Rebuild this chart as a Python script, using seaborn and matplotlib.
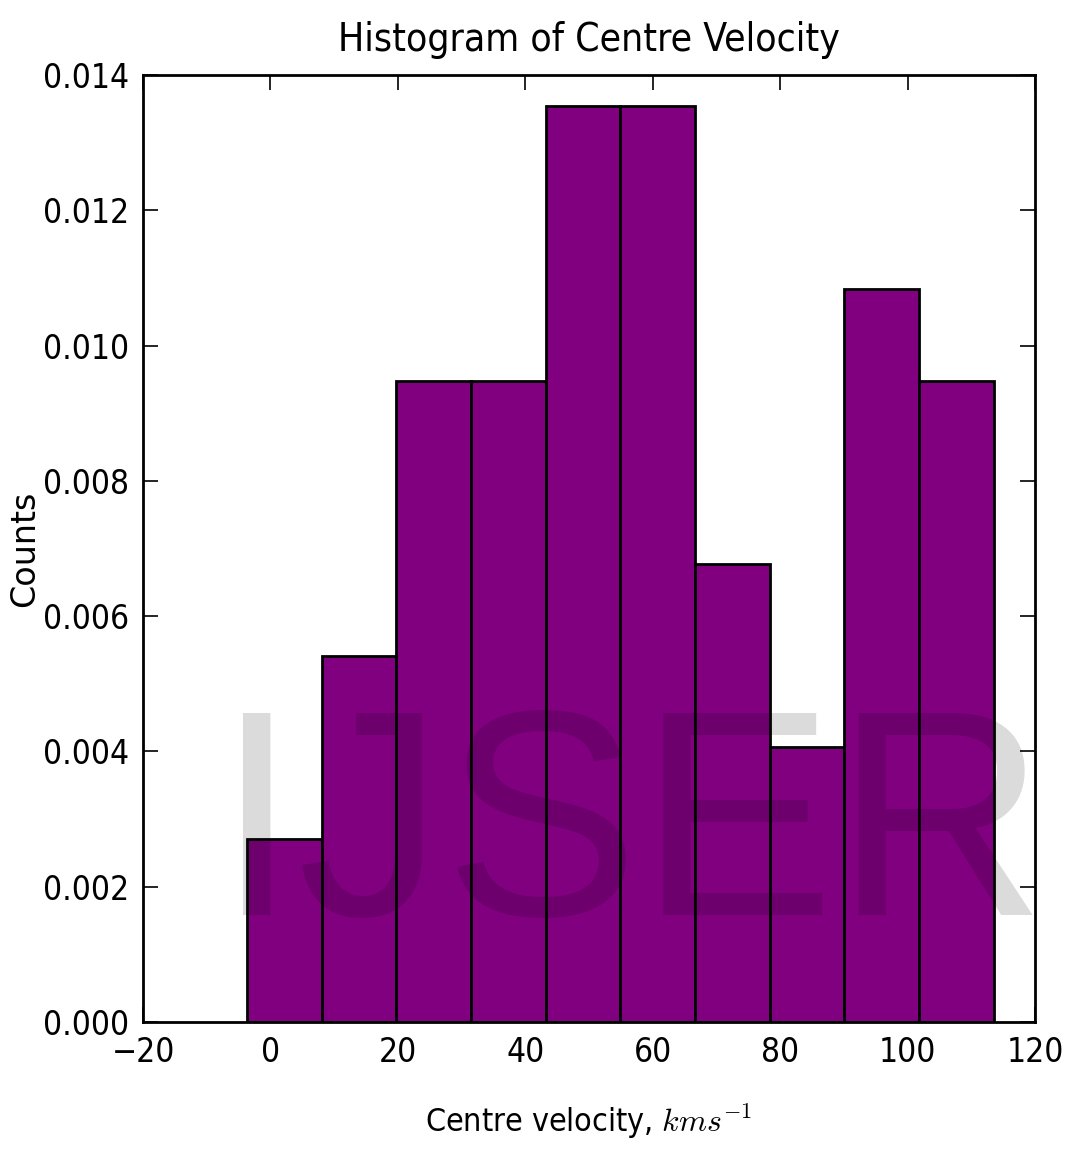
import numpy as np
import pandas as pd
import seaborn as sns
import matplotlib
import matplotlib.pyplot as plt
from matplotlib import font_manager

# histogram: bin edges and counts per bin
binEdges = [-3.7, 8.02, 19.74, 31.46, 43.18, 54.9, 66.62, 78.34, 90.06, 101.78, 113.5]
binCounts = [2, 4, 7, 7, 10, 10, 5, 3, 8, 7]
xTicks = [-20, 0, 20, 40, 60, 80, 100, 120]
yTicks = [0.000, 0.002, 0.004, 0.006, 0.008, 0.010, 0.012, 0.014]

binCentres = [(a + b) / 2 for a, b in zip(binEdges[:-1], binEdges[1:])]
velData = pd.DataFrame({'velocity': binCentres, 'count': binCounts})

sns.set_style('ticks')
plt.rcParams['mathtext.fontset'] = 'cm'
plt.rcParams['text.color'] = 'black'
plt.rcParams['axes.labelcolor'] = 'black'
plt.rcParams['xtick.color'] = 'black'
plt.rcParams['ytick.color'] = 'black'
plt.rcParams['axes.edgecolor'] = 'black'

# narrow font if one is around
names = {f.name for f in font_manager.fontManager.ttflist}
stretches = {(f.name, f.stretch) for f in font_manager.fontManager.ttflist}
if 'Liberation Sans Narrow' in names:
    txtFont = dict(family='Liberation Sans Narrow')
elif any(n == 'DejaVu Sans' and s == 'condensed' for n, s in stretches):
    txtFont = dict(family='DejaVu Sans', stretch='condensed')
else:
    txtFont = dict(family='DejaVu Sans')

fig = plt.figure(figsize=(10.65, 11.49), dpi=100)
ax = fig.add_axes([0.1343, 0.1105, 0.8375, 0.8242])

sns.histplot(data=velData, x='velocity', weights='count', bins=binEdges,
             stat='density', color='purple', alpha=1, edgecolor='black',
             linewidth=2, ax=ax)

ax.set_xlim(-20, 120)
ax.set_ylim(0, 0.014)
ax.set_xticks(xTicks)
ax.set_yticks(yTicks)
ax.set_yticklabels(['%.3f' % v for v in yTicks])
ax.set_xticklabels([str(v).replace('-', '\u2212') for v in xTicks])
ax.tick_params(direction='in', length=11, width=1.2, top=True, right=True,
               labelsize=24, pad=10)
for lab in ax.get_xticklabels() + ax.get_yticklabels():
    lab.set(**txtFont)
for sp in ax.spines.values():
    sp.set_linewidth(2)

ax.set_title('Histogram of Centre Velocity', fontsize=28, pad=17, **txtFont)
ax.set_xlabel('Centre velocity, $kms^{-1}$', fontsize=23, labelpad=24, **txtFont)
ax.set_ylabel('Counts', fontsize=24, family='DejaVu Sans')
ax.yaxis.set_label_coords(-0.114, 0.5)

# watermark over the chart
fig.text(0.5925, 0.2037, 'IJSER', family='Liberation Sans', fontsize=211,
         color='black', alpha=0.14, ha='center', va='baseline')

fig.savefig('out.png', dpi=100)
